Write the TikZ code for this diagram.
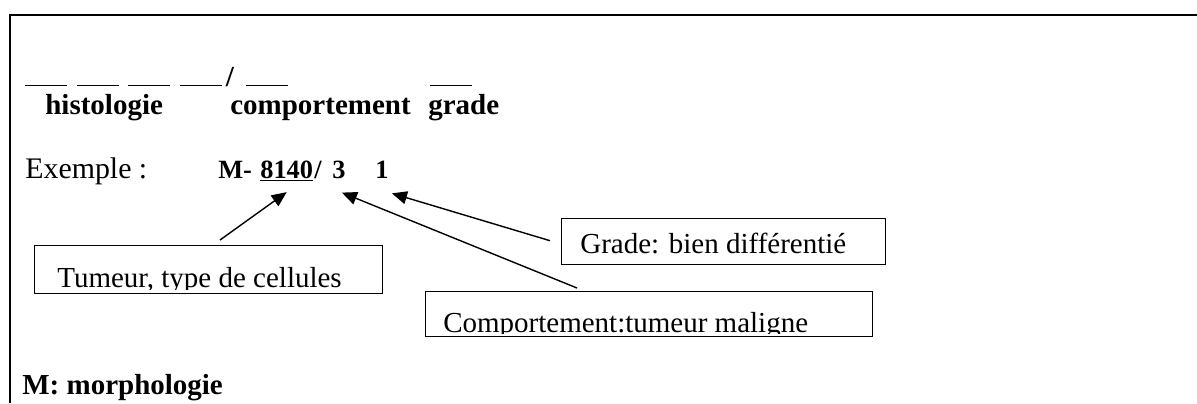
\documentclass[tikz,border=0pt]{standalone}
\usepackage{fontspec}
\setmainfont{Liberation Serif}
\usetikzlibrary{arrows.meta}
\newcommand{\blank}{\rule{0.84cm}{0.8pt}}

\begin{document}
\begin{tikzpicture}[x=0.02cm, y=-0.02cm,
  every node/.style={inner sep=0pt, anchor=base west},
  headtxt/.style={font=\fontsize{16.5}{19}\selectfont\bfseries},
  codetxt/.style={font=\fontsize{15}{17}\selectfont\bfseries},
  plaintxt/.style={font=\fontsize{17}{20}\selectfont},
  notebox/.style={draw, line width=0.8pt, anchor=north west},
  notetxt/.style={font=\fontsize{16.5}{19}\selectfont},
  pointer/.style={-{Triangle[length=3mm, width=2.6mm]}, line width=0.8pt},
]
\useasboundingbox (0,0) rectangle (1197,403);

% frame
\draw[line width=1.1pt] (10,403) -- (10,15) -- (1197,15);

% code pattern
\node[headtxt] (blanks) at (25,86)
  {\blank\hspace{0.19cm}\blank\hspace{0.19cm}\blank\hspace{0.19cm}\blank\hspace{0.08cm}/\hspace{0.24cm}\blank};
\node[headtxt] (gblank) at (430,86)  {\blank};
\node[headtxt] (histo)  at (45,114)  {histologie};
\node[headtxt] (compo)  at (230,114) {comportement};
\node[headtxt] (grade)  at (428,114) {grade};

% example
\node[plaintxt] (ex)   at (25,178)  {Exemple :};
\node[codetxt]  (mpre) at (218,178) {M-};
\node[codetxt]  (topo) at (260,178) {\underline{8140}};
\node[codetxt]  (sl)   at (314,178) {/};
\node[codetxt]  (beh)  at (332,178) {3};
\node[codetxt]  (grd)  at (375,178) {1};

% explanation boxes
\node[notebox, minimum width=6.96cm, minimum height=0.96cm] (tumbox)   at (34,245)  {};
\node[notebox, minimum width=6.48cm, minimum height=0.92cm] (gradebox) at (561,218) {};
\node[notebox, minimum width=8.94cm, minimum height=0.90cm] (behbox)   at (425,291) {};

\begin{scope}
  \clip ([shift={(3,3)}]tumbox.north west) rectangle ([shift={(-3,-5)}]tumbox.south east);
  \node[notetxt] (tum) at ([shift={(23,42)}]tumbox.north west) {Tumeur, type de cellules};
\end{scope}
\begin{scope}
  \clip ([shift={(3,3)}]gradebox.north west) rectangle ([shift={(-3,-5)}]gradebox.south east);
  \node[notetxt] (gra) at ([shift={(19,35)}]gradebox.north west) {Grade: bien différentié};
\end{scope}
\begin{scope}
  \clip ([shift={(3,3)}]behbox.north west) rectangle ([shift={(-3,-4)}]behbox.south east);
  \node[notetxt] (bhv) at ([shift={(18,41)}]behbox.north west) {Comportement:tumeur maligne};
\end{scope}

\draw[pointer] ([shift={(186,-5)}]tumbox.north west) -- ([shift={(0,10)}]topo.south);
\draw[pointer] ([shift={(152,-3)}]behbox.north west) -- ([shift={(3,14)}]beh.south);
\draw[pointer] ([shift={(-11,-1)}]gradebox.west) -- ([shift={(10,15)}]grd.south);

\node[headtxt] (morph) at (22,394) {M: morphologie};
\end{tikzpicture}
\end{document}
